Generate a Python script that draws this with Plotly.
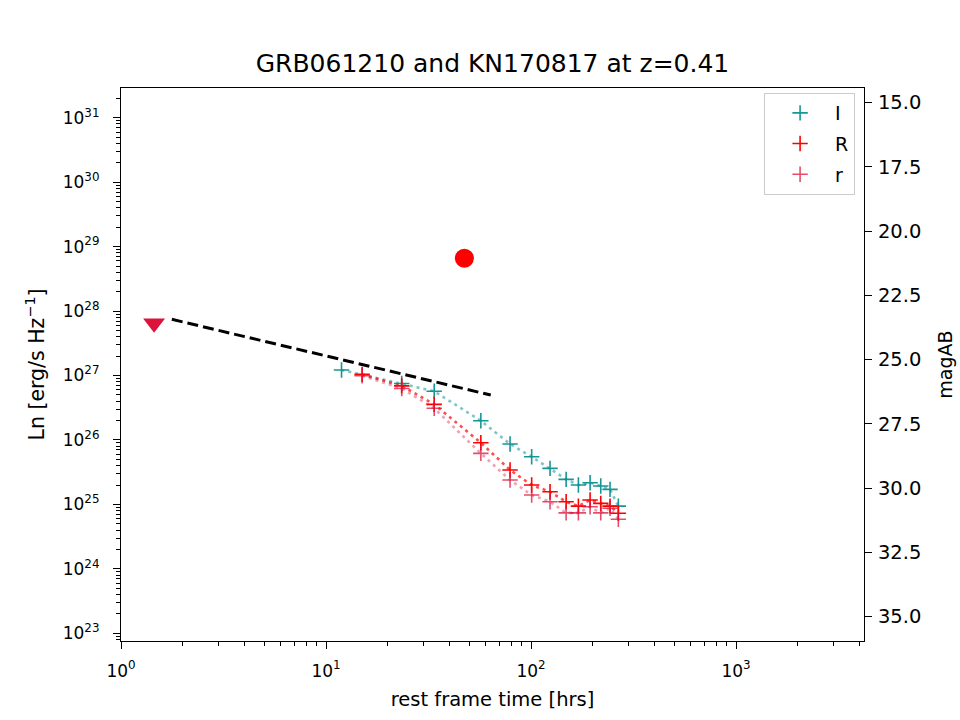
import plotly.graph_objects as go

# ---- data ----
t_I = [11.9, 23.4, 33.7, 56.9, 79.0, 100.7, 123.8, 148.3, 170.2, 194.1, 218.8, 242.8, 266.6]
L_I = [1.22e27, 7.5e26, 5.7e26, 1.99e26, 8.65e25, 5.5e25, 3.63e25, 2.45e25, 2.0e25, 2.17e25, 1.93e25, 1.71e25, 9.4e24]
t_R = [15.0, 23.4, 33.7, 56.9, 79.0, 100.7, 123.8, 148.3, 170.2, 194.1, 218.8, 242.8, 266.6]
L_R = [1.04e27, 6.9e26, 3.57e26, 9.06e25, 3.42e25, 2.0e25, 1.57e25, 1.10e25, 9.4e24, 1.17e25, 1.04e25, 9.4e24, 7.3e24]
t_r = [15.0, 23.4, 33.7, 56.9, 79.0, 100.7, 123.8, 148.3, 170.2, 194.1, 218.8, 242.8, 266.6]
L_r = [9.9e26, 6.3e26, 3.1e26, 6.2e25, 2.39e25, 1.40e25, 1.10e25, 7.4e24, 7.4e24, 9.2e24, 7.4e24, 8.7e24, 5.9e24]

t_pl = [1.77, 63.6]
L_pl = [7.45e27, 4.98e26]

t_ul = [1.45]
L_ul = [6.5e27]

t_pt = [47.3]
L_pt = [6.6e28]

y_major = [1e23, 1e24, 1e25, 1e26, 1e27, 1e28, 1e29, 1e30, 1e31]
y_major_text = ["10<sup>23</sup>", "10<sup>24</sup>", "10<sup>25</sup>", "10<sup>26</sup>",
                "10<sup>27</sup>", "10<sup>28</sup>", "10<sup>29</sup>", "10<sup>30</sup>",
                "10<sup>31</sup>"]
x_major = [1.0, 10.0, 100.0, 1000.0]
x_major_text = ["10<sup>0</sup>", "10<sup>1</sup>", "10<sup>2</sup>", "10<sup>3</sup>"]
mag_ticks = [15.0, 17.5, 20.0, 22.5, 25.0, 27.5, 30.0, 32.5, 35.0]
mag_text = ["15.0", "17.5", "20.0", "22.5", "25.0", "27.5", "30.0", "32.5", "35.0"]

x_minor = [float(m) * 10.0 ** k for k in range(0, 4) for m in range(2, 10)]
y_minor = [float(m) * 10.0 ** k for k in range(22, 32) for m in range(2, 10)]

TEAL = "#008B8B"
RED = "#FF0000"
CRIMSON = "#DC143C"

fig = go.Figure()

# dotted connecting lines
fig.add_trace(go.Scatter(x=t_I, y=L_I, mode="lines", showlegend=False, hoverinfo="skip",
                         line=dict(color="rgba(0,139,139,0.5)", width=2.6, dash="3px,4px")))
fig.add_trace(go.Scatter(x=t_R, y=L_R, mode="lines", showlegend=False, hoverinfo="skip",
                         line=dict(color="rgba(255,0,0,0.7)", width=2.6, dash="3px,4px")))
fig.add_trace(go.Scatter(x=t_r, y=L_r, mode="lines", showlegend=False, hoverinfo="skip",
                         line=dict(color="rgba(220,20,60,0.4)", width=2.6, dash="3px,4px")))

# power-law dashed line
fig.add_trace(go.Scatter(x=t_pl, y=L_pl, mode="lines", showlegend=False,
                         line=dict(color="black", width=3, dash="11px,5px")))

# markers
def plus(color, opacity=1.0):
    return dict(symbol="cross-thin", size=11, color=color, opacity=opacity,
                line=dict(color=color, width=1.6))

fig.add_trace(go.Scatter(x=t_I, y=L_I, mode="markers", name="I", legendgroup="I",
                         marker=plus(TEAL, 0.9)))
fig.add_trace(go.Scatter(x=t_R, y=L_R, mode="markers", name="R", legendgroup="R",
                         marker=plus(RED)))
fig.add_trace(go.Scatter(x=t_r, y=L_r, mode="markers", name="r", legendgroup="r",
                         marker=plus(CRIMSON, 0.75)))

fig.add_trace(go.Scatter(x=t_ul, y=L_ul, mode="markers", showlegend=False,
                         marker=dict(symbol="triangle-down", size=19, color=CRIMSON)))
fig.add_trace(go.Scatter(x=t_pt, y=L_pt, mode="markers", showlegend=False,
                         marker=dict(symbol="circle", size=19, color=RED)))

# empty trace to anchor right axis
fig.add_trace(go.Scatter(x=[], y=[], yaxis="y2", showlegend=False, hoverinfo="skip"))

FONT = "DejaVu Sans"
fig.update_layout(
    width=960, height=720,
    margin=dict(l=121, r=96, t=88, b=79, autoexpand=False),
    paper_bgcolor="white", plot_bgcolor="white",
    font=dict(family=FONT, size=17, color="black"),
    title=dict(text="GRB061210 and KN170817 at z=0.41", x=0.5, xref="paper", xanchor="center",
               y=1, yref="paper", yanchor="bottom", pad=dict(b=16),
               font=dict(family=FONT, size=25, color="black")),
    xaxis=dict(type="log", range=[0, 3.624], showgrid=False, zeroline=False, automargin=False,
               showline=True, linecolor="black", linewidth=1.2, mirror=True,
               ticks="outside", ticklen=7, tickwidth=1.2, tickcolor="black",
               tickmode="array", tickvals=x_major, ticktext=x_major_text,
               tickfont=dict(size=17), ticklabelstandoff=7,
               minor=dict(tickmode="array", tickvals=x_minor, ticks="outside", ticklen=4,
                          tickwidth=1, tickcolor="black", showgrid=False),
               title=dict(text="rest frame time [hrs]", standoff=12,
                          font=dict(family=FONT, size=19.5))),
    yaxis=dict(type="log", range=[22.881, 31.461], showgrid=False, zeroline=False, automargin=False,
               showline=True, linecolor="black", linewidth=1.2, mirror=True,
               ticks="outside", ticklen=7, tickwidth=1.2, tickcolor="black",
               tickmode="array", tickvals=y_major, ticktext=y_major_text,
               tickfont=dict(size=17), ticklabelstandoff=10,
               minor=dict(tickmode="array", tickvals=y_minor, ticks="outside", ticklen=4,
                          tickwidth=1, tickcolor="black", showgrid=False),
               title=dict(text="Ln [erg/s Hz<sup>−1</sup>]", standoff=12,
                          font=dict(family=FONT, size=20.5))),
    yaxis2=dict(overlaying="y", side="right", range=[35.95, 14.43], showgrid=False,
                zeroline=False, showline=False, automargin=False,
                ticks="outside", ticklen=7, tickwidth=1.2, tickcolor="black",
                tickmode="array", tickvals=mag_ticks, ticktext=mag_text,
                tickfont=dict(size=19.5), ticklabelstandoff=2,
                title=dict(text="magAB", standoff=18, font=dict(family=FONT, size=19))),
    legend=dict(x=0.988, y=0.991, xanchor="right", yanchor="top",
                bgcolor="white", bordercolor="#cccccc", borderwidth=1,
                font=dict(family=FONT, size=19), itemwidth=60,
                tracegroupgap=3),
    showlegend=True,
)

fig.write_html("out.html")
